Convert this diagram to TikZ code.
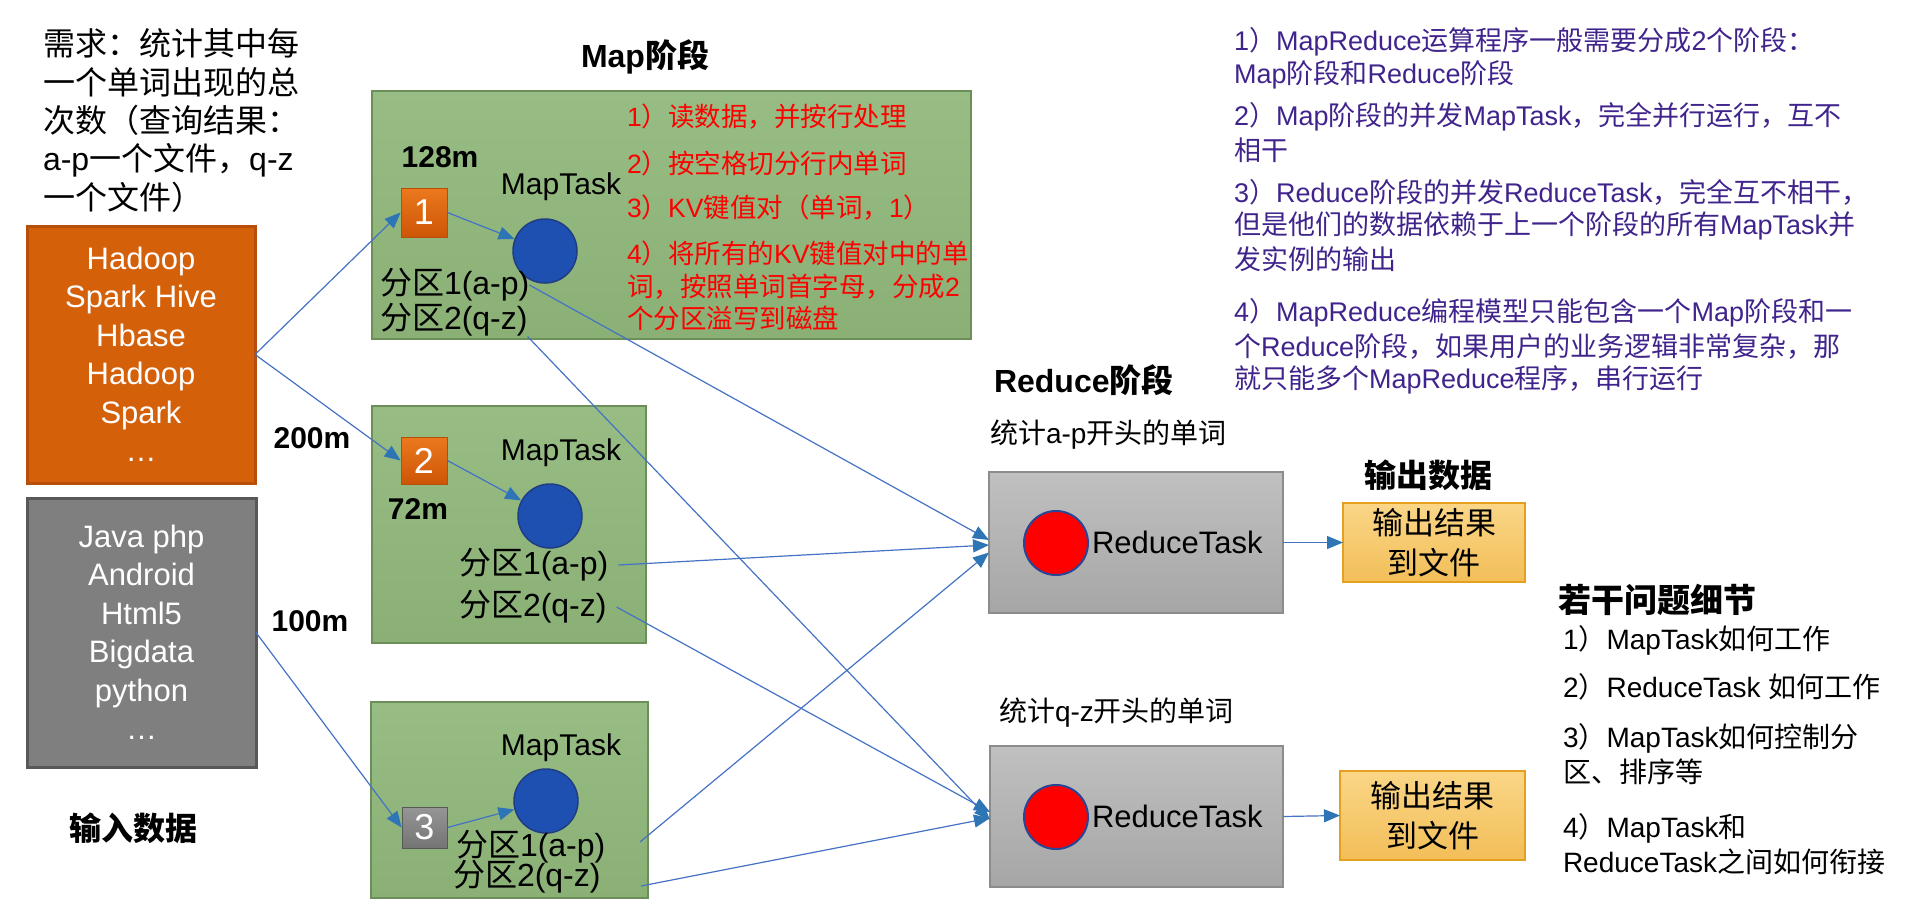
\documentclass[tikz,border=0pt]{standalone}
\usepackage{fontspec}
\setmainfont{Liberation Sans}
\newfontfamily\cjkfont{Noto Sans CJK SC}
\usetikzlibrary{arrows.meta}
\newXeTeXintercharclass\cjkclass
\makeatletter
\count@="2E80
\loop
  \XeTeXcharclass\count@=\cjkclass
  \ifnum\count@<"9FFF \advance\count@ by 1 \repeat
\count@="FF00
\loop
  \XeTeXcharclass\count@=\cjkclass
  \ifnum\count@<"FFEF \advance\count@ by 1 \repeat
\makeatother
\XeTeXinterchartoks 0 \cjkclass = {\cjkfont}
\XeTeXinterchartoks 4095 \cjkclass = {\cjkfont}
\XeTeXinterchartoks \cjkclass 0 = {\rmfamily}
\XeTeXinterchartoks \cjkclass 4095 = {\rmfamily}
\newcommand\myfs[2]{\fontsize{#1}{#2}\selectfont}
\definecolor{linkblue}{RGB}{68,114,196}
\definecolor{tipblue}{RGB}{46,117,182}
\definecolor{mapgreenT}{RGB}{152,189,132}
\definecolor{mapgreenB}{RGB}{138,176,118}
\definecolor{mapgreenD}{RGB}{108,142,88}
\definecolor{orangeF}{RGB}{213,96,10}
\definecolor{orangeD}{RGB}{184,78,12}
\definecolor{orangeT}{RGB}{236,120,30}
\definecolor{orangeB}{RGB}{205,86,6}
\definecolor{grayF}{RGB}{127,127,127}
\definecolor{grayD}{RGB}{88,88,88}
\definecolor{sqgrayT}{RGB}{150,150,150}
\definecolor{sqgrayB}{RGB}{116,116,116}
\definecolor{redT}{RGB}{255,0,0}
\definecolor{purpleT}{RGB}{64,36,140}
\definecolor{circBlue}{RGB}{30,80,178}
\definecolor{circEdge}{RGB}{32,60,130}
\definecolor{redEdge}{RGB}{40,70,150}
\definecolor{rgrayT}{RGB}{192,192,192}
\definecolor{rgrayB}{RGB}{166,166,166}
\definecolor{rgrayD}{RGB}{140,140,140}
\definecolor{outT}{RGB}{250,214,135}
\definecolor{outB}{RGB}{242,190,88}
\definecolor{outD}{RGB}{228,160,30}
\begin{document}
\XeTeXinterchartokenstate=1
\begin{tikzpicture}[x=1pt,y=-1pt,
  box/.style={draw, anchor=north west, inner sep=0pt, outer sep=0pt},
  txt/.style={inner sep=0pt, outer sep=0pt},
  ltxt/.style={txt, anchor=west},
  mapbox/.style={box, top color=mapgreenT, bottom color=mapgreenB, draw=mapgreenD, line width=2pt},
  redbox/.style={box, top color=rgrayT, bottom color=rgrayB, draw=rgrayD, line width=1.5pt},
  outbox/.style={box, top color=outT, bottom color=outB, draw=outD, line width=2pt, align=center, font=\myfs{31}{40}},
  sqo/.style={draw=orangeD, line width=0.8pt, top color=orangeT, bottom color=orangeB, text=white, inner sep=0pt, font=\myfs{36}{36}},
  sqg/.style={draw=grayD, line width=0.8pt, top color=sqgrayT, bottom color=sqgrayB, text=white, inner sep=0pt, font=\myfs{36}{36}},
  bluec/.style={circle, draw=circEdge, line width=1.5pt, fill=circBlue, minimum size=64pt, inner sep=0pt},
  redc/.style={circle, draw=redEdge, line width=2pt, fill=redT, minimum size=64pt, inner sep=0pt},
  head/.style={txt, font=\myfs{32}{36}\bfseries},
  size/.style={txt, font=\myfs{30}{34}\bfseries},
  mt/.style={txt, font=\myfs{30}{34}},
  part/.style={ltxt, font=\myfs{32}{36}},
  redline/.style={ltxt, text=redT, font=\myfs{26.5}{30}},
  purp/.style={ltxt, text=purpleT, font=\myfs{27}{30}},
  blk/.style={ltxt, font=\myfs{28}{32}},
  link/.style={draw=linkblue, line width=1.2pt, -{Triangle[length=16pt,width=13pt,color=tipblue,fill=tipblue]}},
]
\useasboundingbox (0,0) rectangle (1909,908);

% ---- left question text
\node[ltxt, font=\myfs{32}{38}] (q1) at (43,43) {需求：统计其中每};
\node[ltxt, font=\myfs{32}{38}] (q2) at (43,82) {一个单词出现的总};
\node[ltxt, font=\myfs{32}{38}] (q3) at (43,120) {次数（查询结果：};
\node[ltxt, font=\myfs{32}{38}] (q4) at (43,160) {a-p一个文件，q-z};
\node[ltxt, font=\myfs{32}{38}] (q5) at (43,197) {一个文件）};

% ---- input boxes
\node[box, fill=orangeF, draw=orangeD, line width=3pt, minimum width=228pt, minimum height=257pt,
      text=white, align=center, font=\myfs{31}{38.5}] (ob) at (27,226)
      {Hadoop\\Spark Hive\\Hbase\\Hadoop\\Spark\\…};
\node[box, fill=grayF, draw=grayD, line width=3pt, minimum width=229pt, minimum height=269pt,
      text=white, align=center, font=\myfs{31}{38.5}] (gb) at (27,498)
      {Java php\\Android\\Html5\\Bigdata\\python\\…};
\node[head] (inlabel) at (133,828) {输入数据};

% ---- map stage
\node[head] (maplabel) at (645,57) {Map阶段};
\node[mapbox, minimum width=599pt, minimum height=248pt] (m1) at (372,91) {};
\node[mapbox, minimum width=274pt, minimum height=237pt] (m2) at (372,406) {};
\node[mapbox, minimum width=277pt, minimum height=196pt] (m3) at (371,702) {};

\node[size] (s1) at (440,157) {128m};
\node[size] (s2) at (312,438) {200m};
\node[size] (s3) at (310,621) {100m};
\node[size] (s4) at (418,509) {72m};

\node[sqo, minimum width=46pt, minimum height=49pt] (sq1) at (424,212.5) {1};
\node[sqo, minimum width=46pt, minimum height=47pt] (sq2) at (424,460.5) {2};
\node[sqg, minimum width=45pt, minimum height=41pt] (sq3) at (424.5,827.5) {3};

\node[mt] (mt1) at (561,187) {MapTask};
\node[mt] (mt2) at (561,453) {MapTask};
\node[mt] (mt3) at (561,748) {MapTask};

\node[bluec] (c1) at (545,251) {};
\node[bluec] (c2) at (550,516) {};
\node[bluec] (c3) at (546,801) {};

\node[part] (p11) at (380,285) {分区1(a-p)};
\node[part] (p12) at (380,320) {分区2(q-z)};
\node[part] (p21) at (459,565) {分区1(a-p)};
\node[part] (p22) at (459,607) {分区2(q-z)};
\node[part] (p31) at (456,847) {分区1(a-p)};
\node[part] (p32) at (453,877) {分区2(q-z)};

\node[redline] (rl1) at (627,117) {1）读数据，并按行处理};
\node[redline] (rl2) at (627,163) {2）按空格切分行内单词};
\node[redline] (rl3) at (627,208) {3）KV键值对（单词，1）};
\node[redline] (rl4) at (627,253) {4）将所有的KV键值对中的单};
\node[redline] (rl5) at (627,287) {词，按照单词首字母，分成2};
\node[redline] (rl6) at (627,318) {个分区溢写到磁盘};

% ---- reduce stage
\node[head, anchor=west] (rlabel) at (994,380) {Reduce阶段};
\node[blk] (ra) at (990,435) {统计a-p开头的单词};
\node[blk] (rq) at (999,713) {统计q-z开头的单词};
\node[redbox, minimum width=294pt, minimum height=141pt] (R1) at (989,472) {};
\node[redbox, minimum width=293pt, minimum height=141pt] (R2) at (990,746) {};
\node[redc] (rc1) at (1056,543) {};
\node[redc] (rc2) at (1056,817) {};
\node[ltxt, font=\myfs{31}{34}] (rt1) at (1092,542) {ReduceTask};
\node[ltxt, font=\myfs{31}{34}] (rt2) at (1092,816) {ReduceTask};

% ---- output
\node[head] (outlabel) at (1428,475) {输出数据};
\node[outbox, minimum width=182pt, minimum height=79pt] (o1) at (1343,503) {输出结果\\到文件};
\node[outbox, minimum width=185pt, minimum height=89pt] (o2) at (1340,771) {输出结果\\到文件};

% ---- right notes
\node[purp] (n1) at (1234,42) {1）MapReduce运算程序一般需要分成2个阶段：};
\node[purp] (n2) at (1234,75) {Map阶段和Reduce阶段};
\node[purp] (n3) at (1234,117) {2）Map阶段的并发MapTask，完全并行运行，互不};
\node[purp] (n4) at (1234,150) {相干};
\node[purp] (n5) at (1234,192) {3）Reduce阶段的并发ReduceTask，完全互不相干，};
\node[purp] (n6) at (1234,226) {但是他们的数据依赖于上一个阶段的所有MapTask并};
\node[purp] (n7) at (1234,259) {发实例的输出};
\node[purp] (n8) at (1234,313) {4）MapReduce编程模型只能包含一个Map阶段和一};
\node[purp] (n9) at (1234,347) {个Reduce阶段，如果用户的业务逻辑非常复杂，那};
\node[purp] (n10) at (1234,380) {就只能多个MapReduce程序，串行运行};

\node[head, anchor=west, font=\myfs{33}{36}\bfseries] (qlabel) at (1558,600) {若干问题细节};
\node[blk] (d1) at (1563,640) {1）MapTask如何工作};
\node[blk] (d2) at (1563,687) {2）ReduceTask 如何工作};
\node[blk] (d3) at (1563,738) {3）MapTask如何控制分};
\node[blk] (d4) at (1563,772) {区、排序等};
\node[blk] (d5) at (1563,828) {4）MapTask和};
\node[blk] (d6) at (1563,862) {ReduceTask之间如何衔接};

% ---- connectors
\coordinate (m3a) at (640,842);
\coordinate (m3b) at (641,886);
\draw[link] (ob.east) -- (sq1.west);
\draw[link] (ob.east) -- (sq2.west);
\draw[link] (gb.east) -- (sq3.west);
\draw[link] (sq1.east) -- (c1);
\draw[link] (sq2.east) -- (c2);
\draw[link] (sq3.east) -- (c3);
\draw[link] (p11.east) -- ([yshift=2.5pt]R1.west);
\draw[link] (p12.south east) -- ([yshift=-3.5pt]R2.west);
\draw[link] ([xshift=10pt]p21.east) -- ([yshift=-2.5pt]R1.west);
\draw[link] ([xshift=10pt]p22.east) -- ([yshift=4.5pt]R2.west);
\draw[link] (m3a) -- ([yshift=-10pt]R1.west);
\draw[link] (m3b) -- ([yshift=-1.5pt]R2.west);
\draw[link] (R1.east) -- (o1.west);
\draw[link] (R2.east) -- (o2.west);
\end{tikzpicture}
\end{document}
